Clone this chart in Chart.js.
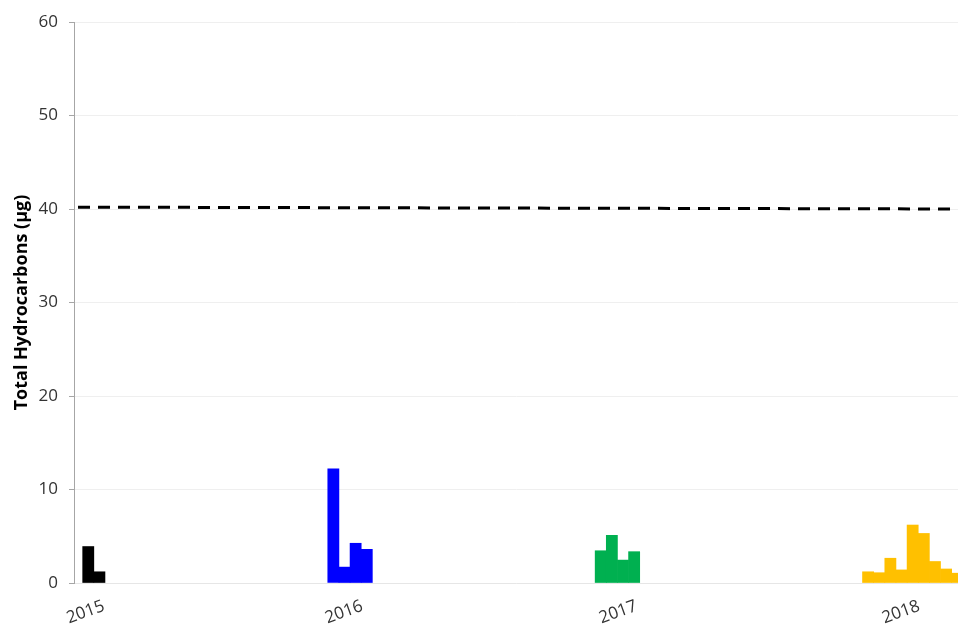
<!DOCTYPE html>
<html>
<head>
<meta charset="utf-8">
<script src="https://cdn.jsdelivr.net/npm/chart.js@4/dist/chart.umd.min.js"></script>
<style>
  body { margin: 0; background: #fff; overflow: hidden; }
</style>
</head>
<body>
<canvas id="hcChart" width="958" height="628"></canvas>
<script>
// year groups, each bar is one slot on the x axis
const years = ['2015', '2016', '2017', '2018'];
const groupStart = [0, 22, 46, 70];
const yearTickPos = [1.9, 25.1, 49.7, 75.1];
const colours = ['#000000', '#0000ff', '#00b050', '#ffc000'];

const vals2015 = [3.9, 1.2];
const vals2016 = [12.2, 1.7, 4.25, 3.6];
const vals2017 = [3.45, 5.1, 2.45, 3.35];
const vals2018 = [1.2, 1.1, 2.65, 1.4, 6.2, 5.3, 2.3, 1.5, 1.05];

// threshold (dashed line), start and end
const limitX = [-0.42, 78.6];
const limitY = [40.2, 40.0];

const yTicks = [0, 10, 20, 30, 40, 50, 60];

let groups = [vals2015, vals2016, vals2017, vals2018];
let barPoints = [];
let barColours = [];
groups.forEach((vals, g) => {
  vals.forEach((v, i) => {
    barPoints.push({ x: groupStart[g] + i + 0.5, y: v });
    barColours.push(colours[g]);
  });
});

let ctx = document.getElementById('hcChart').getContext('2d');
let chart = new Chart(ctx, {
  data: {
    datasets: [
      {
        type: 'line',
        label: 'Limit',
        data: limitX.map((x, i) => ({ x: x, y: limitY[i] })),
        borderColor: '#000000',
        borderWidth: 3,
        borderDash: [12, 8],
        pointRadius: 0,
        fill: false
      },
      {
        type: 'bar',
        label: 'Total Hydrocarbons',
        data: barPoints,
        backgroundColor: barColours,
        borderWidth: 0,
        barPercentage: 1,
        categoryPercentage: 1
      }
    ]
  },
  options: {
    responsive: false,
    animation: false,
    layout: { padding: { top: 22, right: 0, left: 0, bottom: 0 } },
    plugins: { legend: { display: false }, tooltip: { enabled: false } },
    scales: {
      x: {
        type: 'linear',
        offset: false,
        min: -0.78,
        max: 78.57,
        grid: { display: false },
        border: { color: '#e6e6e6' },
        afterBuildTicks: axis => { axis.ticks = yearTickPos.map(v => ({ value: v })); },
        afterFit: axis => { axis.height = 45; },
        ticks: {
          autoSkip: false,
          minRotation: 20,
          maxRotation: 20,
          padding: 5,
          color: '#333',
          font: { family: 'Open Sans', size: 17 },
          callback: v => years[yearTickPos.indexOf(v)]
        }
      },
      y: {
        min: 0,
        max: 60,
        afterBuildTicks: axis => { axis.ticks = yTicks.map(v => ({ value: v })); },
        afterFit: axis => { axis.width = 74; },
        grid: { color: '#efefef', tickColor: '#a6a6a6', tickLength: 5 },
        border: { color: '#a6a6a6' },
        ticks: {
          padding: 11,
          color: '#333',
          font: { family: 'Open Sans', size: 17 }
        },
        title: {
          display: true,
          text: 'Total Hydrocarbons (µg)',
          color: '#000',
          padding: { top: 11, bottom: 0 },
          font: { family: 'Open Sans', size: 18, weight: 'bold' }
        }
      }
    }
  }
});
</script>
</body>
</html>
